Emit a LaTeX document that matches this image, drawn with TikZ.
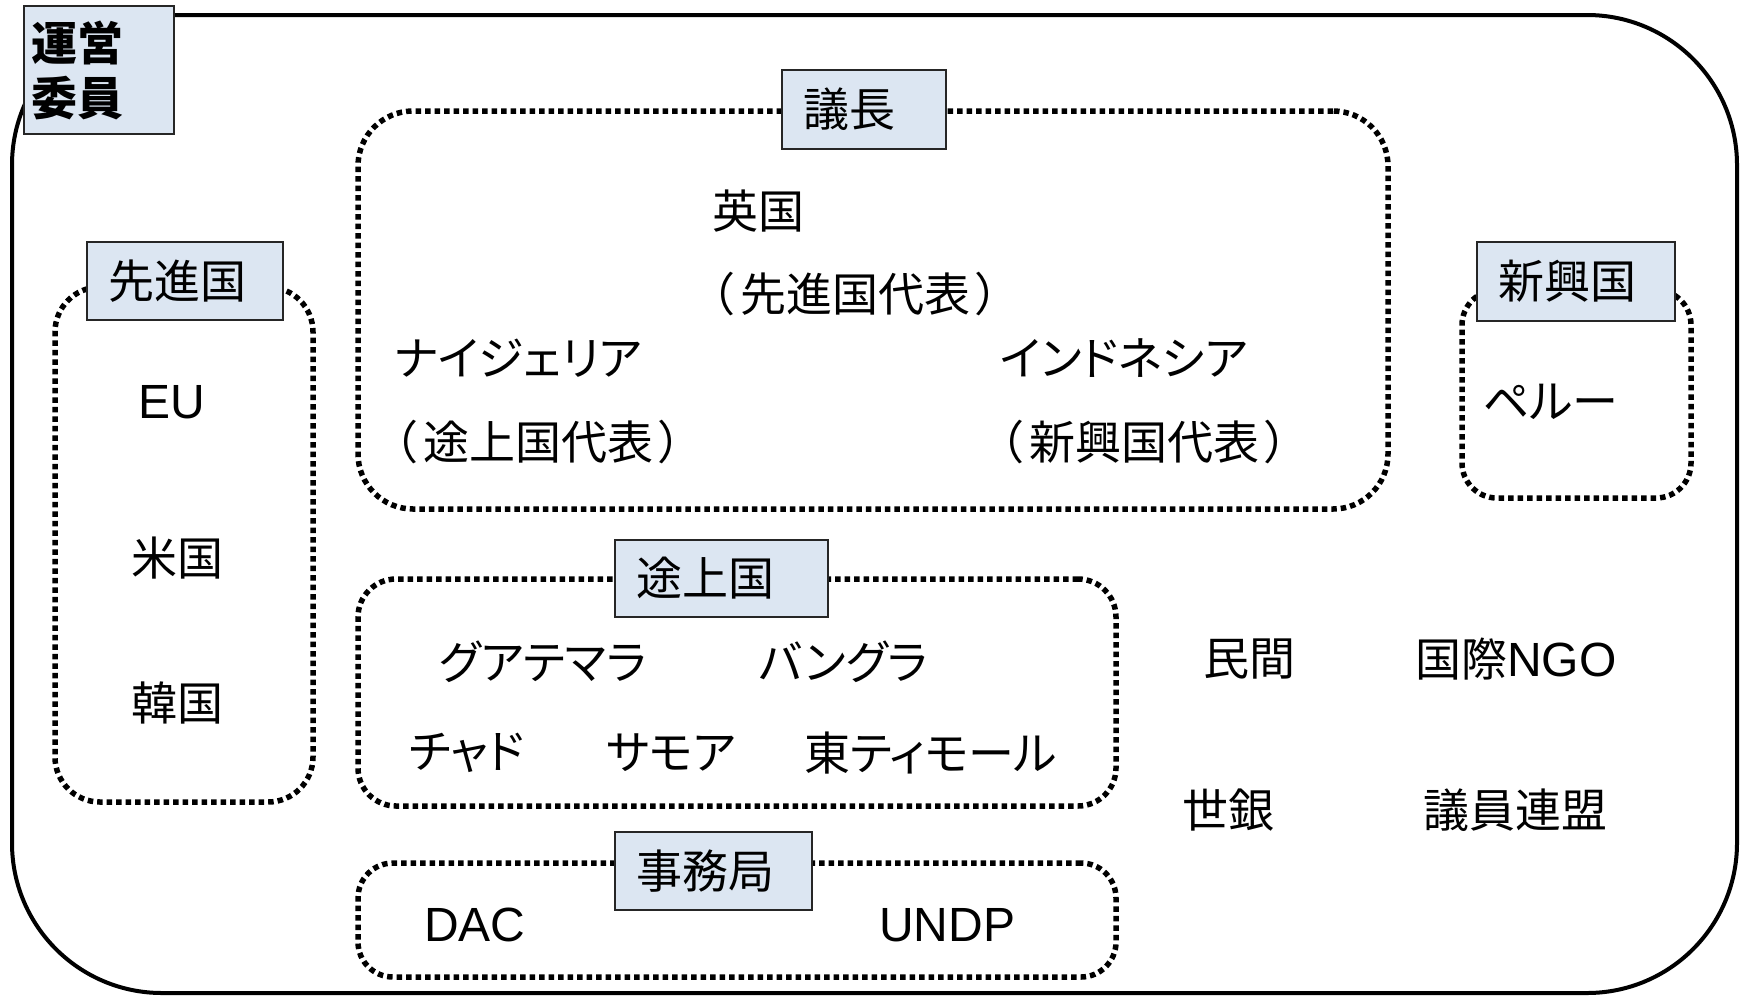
\documentclass[tikz,border=0pt]{standalone}
\usepackage{fontspec}
\newfontfamily\jp[RawFeature=+palt]{Noto Sans CJK JP}
\newfontfamily\lat{Liberation Sans}
\newcommand\mylp{（\kern6pt}
\newcommand\myrp{\kern6pt）}
\definecolor{lblfill}{HTML}{DCE6F2}
\definecolor{lblline}{HTML}{262626}
\tikzset{
  big/.style={font=\jp\fontsize{46}{55}\selectfont},
  txt/.style={big, inner sep=0pt, anchor=west, text=black},
  lattxt/.style={txt, font=\lat\fontsize{48}{55}\selectfont},
  dotframe/.style={draw=black, line width=5.5pt, dash pattern=on 5.5pt off 4pt, rounded corners=#1, inner sep=0pt},
  lbl/.style={big, draw=lblline, line width=2.5pt, fill=lblfill, align=left, inner xsep=21pt, inner ysep=0pt, minimum height=#1},
  outerframe/.style={draw=black, line width=4pt, rounded corners=150pt, inner sep=0pt},
}
\begin{document}
\begin{tikzpicture}[x=1pt,y=-1pt]
\useasboundingbox (0,0) rectangle (1742,997);
% outer frame
\node[outerframe, minimum width=1725pt, minimum height=978pt] (outer) at (874.5,504) {};
% dotted groups
\node[dotframe=55pt, minimum width=1030pt, minimum height=398pt] (fGicho) at (873,310) {};
\node[dotframe=45pt, minimum width=258pt, minimum height=515pt] (fSenshin) at (184,544.5) {};
\node[dotframe=35pt, minimum width=229pt, minimum height=208pt] (fShinko) at (1576.5,394) {};
\node[dotframe=38pt, minimum width=758pt, minimum height=227pt] (fTojo) at (737,692.5) {};
\node[dotframe=35pt, minimum width=758pt, minimum height=114pt] (fJimu) at (737,920) {};
% label boxes
\node[lbl=79pt, text width=122pt] (lGicho) at (864,109.5) {議長};
\node[lbl=78pt, text width=154pt] (lSenshin) at (185,281) {先進国};
\node[lbl=79pt, text width=156pt] (lShinko) at (1576,281.5) {新興国};
\node[lbl=77pt, text width=171pt] (lTojo) at (721.5,578.5) {途上国};
\node[lbl=78pt, text width=155pt] (lJimu) at (713.5,871) {事務局};
\node[lbl=128pt, text width=136pt, inner xsep=7pt, font=\jp\bfseries\fontsize{46}{55}\selectfont] (lUnei) at (99,70) {運営\\委員};
% chair group
\node[txt] (tUK) at (712,211) {英国};
\node[txt] (tUKrep) at (711,294) {\mylp 先進国代表\myrp};
\node[txt] (tNig) at (394,358) {ナイジェリア};
\node[txt] (tNigrep) at (394,442) {\mylp 途上国代表\myrp};
\node[txt] (tIdn) at (1000,358) {インドネシア};
\node[txt] (tIdnrep) at (1000,442) {\mylp 新興国代表\myrp};
% developed
\node[lattxt] (tEU) at (138,402) {EU};
\node[txt] (tUS) at (131,558) {米国};
\node[txt] (tKR) at (131,703) {韓国};
% emerging
\node[txt] (tPeru) at (1483,402) {ペルー};
% developing
\node[txt] (tGua) at (439,662) {グアテマラ};
\node[txt] (tBan) at (759,662) {バングラ};
\node[txt] (tChad) at (409,753) {チャド};
\node[txt] (tSam) at (606,753) {サモア};
\node[txt] (tTL) at (804,753) {東ティモール};
% secretariat
\node[lattxt] (tDAC) at (424,925) {DAC};
\node[lattxt] (tUNDP) at (879,925) {UNDP};
% others
\node[txt] (tPriv) at (1203,659) {民間};
\node[txt] (tNGO) at (1415,659) {国際{\lat\fontsize{48}{55}\selectfont NGO}};
\node[txt] (tWB) at (1182,810) {世銀};
\node[txt] (tParl) at (1423,810) {議員連盟};
\end{tikzpicture}
\end{document}
